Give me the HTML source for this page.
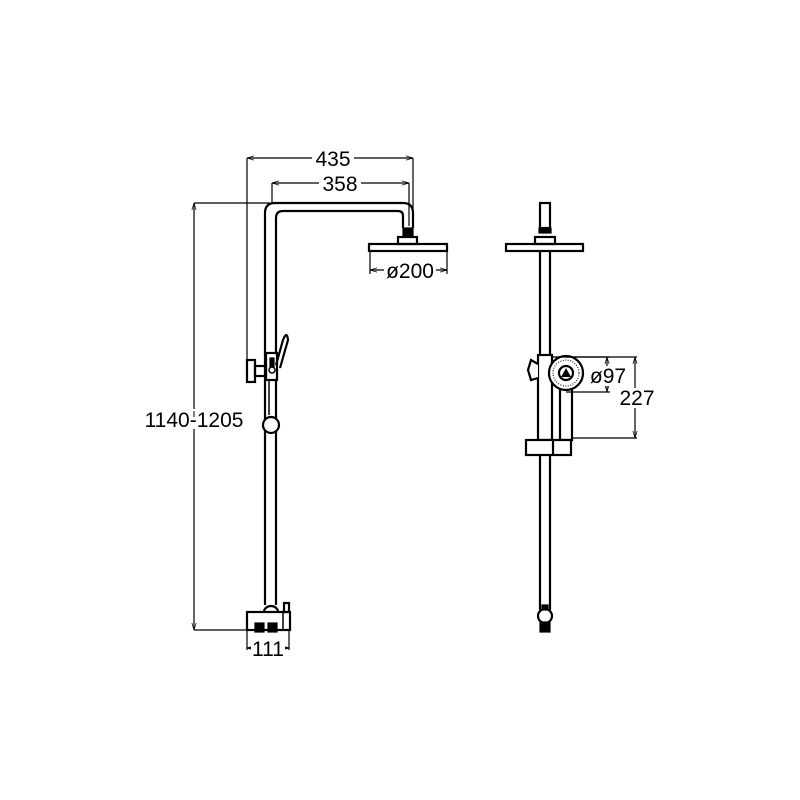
<!DOCTYPE html>
<html><head><style>body{margin:0;background:#fff}svg{display:block}</style></head><body>
<svg width="800" height="800" viewBox="0 0 800 800" xmlns="http://www.w3.org/2000/svg" font-family="Liberation Sans, sans-serif">
<defs><marker id="a" viewBox="0 0 10 10" refX="10" refY="5" markerWidth="6" markerHeight="6" orient="auto-start-reverse"><path d="M0,2 L10,5 L0,8" fill="none" stroke="#000" stroke-width="1"/></marker></defs>
<rect width="800" height="800" fill="#fff"/>
<g stroke="#000" stroke-width="1.2" fill="none">
<line x1="247" y1="158" x2="413" y2="158" marker-start="url(#a)" marker-end="url(#a)"/>
<line x1="247" y1="158" x2="247" y2="362"/><line x1="413" y1="158" x2="413" y2="228"/>
<line x1="272" y1="183" x2="409" y2="183" marker-start="url(#a)" marker-end="url(#a)"/>
<line x1="272" y1="183" x2="272" y2="203"/><line x1="409" y1="183" x2="409" y2="226"/>
<line x1="370" y1="270" x2="447" y2="270" marker-start="url(#a)" marker-end="url(#a)"/>
<line x1="370" y1="251" x2="370" y2="274"/><line x1="447" y1="251" x2="447" y2="274"/>
<line x1="194" y1="203" x2="270" y2="203"/><line x1="194" y1="630" x2="248" y2="630"/>
<line x1="194" y1="203" x2="194" y2="630" marker-start="url(#a)" marker-end="url(#a)"/>
<line x1="247" y1="630" x2="247" y2="650"/><line x1="289" y1="630" x2="289" y2="650"/>
<line x1="247" y1="648" x2="289" y2="648" marker-start="url(#a)" marker-end="url(#a)"/>
<path d="M265,605 V213 Q265,203 275,203 H403 Q413,203 413,213 V228" stroke-width="2.2"/>
<path d="M276,605 V218 Q276,211 283,211 H398 Q403,211 403,216 V228" stroke-width="2.2"/>
<rect x="403" y="228" width="10" height="8" fill="#000"/>
<rect x="398" y="237" width="19" height="7" stroke-width="2.2"/>
<rect x="369" y="244" width="78" height="7" stroke-width="2.2"/>
<rect x="266" y="353" width="11" height="27" stroke-width="2.2" fill="#fff"/>
<rect x="270" y="358" width="4" height="12" fill="#000"/>
<circle cx="272" cy="370" r="3" fill="#fff" stroke-width="1.5"/>
<rect x="247" y="360" width="8" height="22" stroke-width="2.2"/>
<rect x="255" y="366" width="11" height="10" stroke-width="2.2"/>
<path d="M276,365 L283,340 Q287,330 288,340 L280,368" stroke-width="2.2"/>
<line x1="269" y1="380" x2="269" y2="415" stroke-width="1.5"/>
<circle cx="271" cy="425" r="8" stroke-width="2.2" fill="#fff"/>
<rect x="247" y="612" width="43" height="18" stroke-width="2.2" fill="#fff"/>
<path d="M264,612 A7,6 0 0 1 278,612" stroke-width="2.2"/>
<rect x="284" y="603" width="5" height="9" stroke-width="2.2"/>
<line x1="283" y1="612" x2="283" y2="630" stroke-width="1.5"/>
<rect x="255" y="623" width="9" height="9" fill="#000"/>
<rect x="268" y="623" width="9" height="9" fill="#000"/>
<rect x="540" y="203" width="10" height="25" stroke-width="2.2"/>
<rect x="539" y="228" width="12" height="5" fill="#000"/>
<rect x="535" y="237" width="20" height="7" stroke-width="2.2"/>
<rect x="506" y="244" width="77" height="7" stroke-width="2.2"/>
<line x1="540" y1="251" x2="540" y2="610" stroke-width="2.2"/>
<line x1="550" y1="251" x2="550" y2="610" stroke-width="2.2"/>
<rect x="538" y="355" width="14" height="85" stroke-width="2.2" fill="#fff"/>
<path d="M538,364 L531,360 L528,370 L531,380 L538,378" stroke-width="2.2" fill="#fff"/>
<rect x="560" y="388" width="12" height="52" stroke-width="2.2" fill="#fff"/>
<circle cx="566" cy="373" r="17" stroke-width="2.2" fill="#fff"/>
<circle cx="566" cy="373" r="13" stroke-width="1" stroke-dasharray="1 1.5"/>
<circle cx="566" cy="373" r="7" stroke-width="2.2"/>
<path d="M566,368 L571,377 L561,377 Z" fill="#000" stroke="none"/>
<rect x="526" y="440" width="45" height="15" stroke-width="2.2" fill="#fff"/>
<line x1="553" y1="440" x2="553" y2="455" stroke-width="2.2"/>
<circle cx="545" cy="616" r="7" stroke-width="2.2" fill="#fff"/>
<rect x="542" y="605" width="6" height="5" fill="#000"/>
<rect x="540" y="622" width="10" height="10" fill="#000"/>
<line x1="566" y1="357" x2="610" y2="357"/><line x1="566" y1="392" x2="610" y2="392"/>
<line x1="607" y1="357" x2="607" y2="392" marker-start="url(#a)" marker-end="url(#a)"/>
<line x1="552" y1="357" x2="637" y2="357"/><line x1="572" y1="438" x2="637" y2="438"/>
<line x1="635" y1="357" x2="635" y2="438" marker-start="url(#a)" marker-end="url(#a)"/>
</g>
<g font-size="21" fill="#000">
<rect x="312" y="149" width="42" height="18" fill="#fff"/><text x="333" y="166" text-anchor="middle">435</text>
<rect x="319" y="174" width="42" height="18" fill="#fff"/><text x="340" y="191" text-anchor="middle">358</text>
<rect x="384" y="261" width="52" height="18" fill="#fff"/><text x="410" y="278" text-anchor="middle">ø200</text>
<rect x="144" y="409" width="100" height="20" fill="#fff"/><text x="194" y="427" text-anchor="middle">1140-1205</text>
<line x1="194" y1="411" x2="194" y2="417" stroke="#000"/>
<rect x="251" y="639" width="34" height="18" fill="#fff"/><text x="268" y="656" text-anchor="middle">111</text>
<rect x="589" y="366" width="38" height="20" fill="#fff"/><text x="608" y="383" text-anchor="middle">ø97</text>
<rect x="617" y="388" width="40" height="20" fill="#fff"/><text x="637" y="405" text-anchor="middle">227</text>
</g>
</svg>
</body></html>
